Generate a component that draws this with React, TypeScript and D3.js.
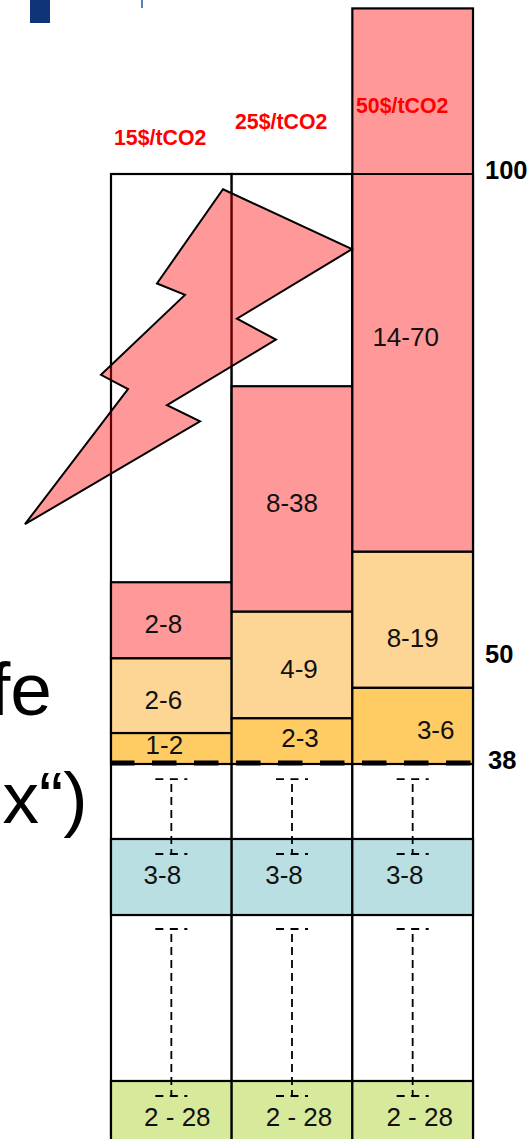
import React, { useEffect, useRef } from "react"
import * as d3 from "d3"

// carbon price columns
const prices = ["15$/tCO2", "25$/tCO2", "50$/tCO2"]

// cumulative tops of the stacks above the 38 line
const baseline = [38, 38, 38]
const orangeTop = [41.25, 42.8, 46]
const peachTop = [49.1, 54, 60.3]
const redTop = [57.1, 77.7, 117.4]

const orangeLabels = ["1-2", "2-3", "3-6"]
const peachLabels = ["2-6", "4-9", "8-19"]
const redLabels = ["2-8", "8-38", "14-70"]

// bands below the break in the axis
const blueBand = [22.13, 30.12]
const greenBand = [-3, 4.69]
const blueLabels = ["3-8", "3-8", "3-8"]
const greenLabels = ["2 - 28", "2 - 28", "2 - 28"]

const frameTop = 100
const whiskers = [[36.42, 28.54], [20.66, 3.11]]
const ticks = [100, 50, 38]

// lightning outline, [column units, axis value]
const lightning = [
    [0.928, 98.4], [1.997, 92.1], [1.044, 84.8], [1.367, 82.6], [0.464, 75.7], [0.738, 74],
    [-0.713, 63.2], [0.141, 77.4], [-0.083, 78.9], [0.613, 87.3], [0.381, 88.5]
]

const labelNudge = {
    red: [[-8, 13], [0, 13], [-7, -17]],
    peach: [[-8, 13], [7, 13], [0, 27]],
    orange: [[-7, 5], [8, 6], [23, 13]],
    blue: [[-9, 7], [-8, 7], [-8, 7]],
    green: [[6, 16], [7, 16], [7, 16]]
}

const priceOffset = [[114, 145], [235, 129], [356, 113]]
const tickNudge = { 100: [0, 4], 50: [0, 13], 38: [3, 4] }

const FONT = "'Liberation Sans', Arial, sans-serif"

export default function App() {
    const ref = useRef<SVGSVGElement>(null)

    useEffect(() => {
        const svg = d3.select(ref.current)
        svg.selectAll("*").remove()

        const yScale = d3.scaleLinear().domain([38, 100]).range([764, 174])
        const xScale = d3.scaleBand().domain(prices).range([111, 473])
        const colScale = d3.scaleLinear().domain([0, 1]).range([111, 111 + xScale.step()])
        const mid = (name: string) => xScale(name)! + xScale.bandwidth() / 2

        // pieces of the slide sticking out behind the chart
        svg.append("rect").attr("x", 30).attr("y", 0).attr("width", 20).attr("height", 23).attr("fill", "#0f3478")
        svg.append("rect").attr("x", 141).attr("y", 0).attr("width", 2).attr("height", 8).attr("fill", "#5585b8")
        svg.append("text").attr("x", 52).attr("y", 715).attr("text-anchor", "end")
            .attr("font-family", FONT).attr("font-size", 75).text("fe")
        svg.append("text").attr("x", 2.5).attr("y", 823)
            .attr("font-family", FONT).attr("font-size", 73).text("x“)")

        const rectStyle = (sel: any, fill: string) => sel
            .attr("fill", fill).attr("stroke", "#000").attr("stroke-width", 2.2)

        // empty frames
        rectStyle(svg.append("g").selectAll("rect").data(prices).enter().append("rect")
            .attr("x", d => xScale(d)!)
            .attr("width", xScale.bandwidth())
            .attr("y", yScale(frameTop))
            .attr("height", yScale(greenBand[0]) - yScale(frameTop)), "#fff")

        const stacked = [
            { key: "red", from: peachTop, to: redTop, labels: redLabels, fill: "#ff9999" },
            { key: "peach", from: orangeTop, to: peachTop, labels: peachLabels, fill: "#fdd595" },
            { key: "orange", from: baseline, to: orangeTop, labels: orangeLabels, fill: "#ffcb63" },
            { key: "blue", from: prices.map(() => blueBand[0]), to: prices.map(() => blueBand[1]), labels: blueLabels, fill: "#b9dfe2" },
            { key: "green", from: prices.map(() => greenBand[0]), to: prices.map(() => greenBand[1]), labels: greenLabels, fill: "#d7e99b" }
        ]

        stacked.forEach(layer => {
            rectStyle(svg.append("g").selectAll("rect").data(prices).enter().append("rect")
                .attr("x", d => xScale(d)!)
                .attr("width", xScale.bandwidth())
                .attr("y", (d, i) => yScale(layer.to[i]))
                .attr("height", (d, i) => yScale(layer.from[i]) - yScale(layer.to[i])), layer.fill)
        })

        // the 100 line runs across the tallest column too
        svg.append("line")
            .attr("x1", xScale.range()[0]).attr("x2", xScale.range()[1])
            .attr("y1", yScale(frameTop)).attr("y2", yScale(frameTop))
            .attr("stroke", "#000").attr("stroke-width", 2)

        stacked.forEach(layer => {
            svg.append("g").selectAll("text").data(layer.labels).enter().append("text")
                .attr("x", (d, i) => mid(prices[i]) + labelNudge[layer.key][i][0])
                .attr("y", (d, i) => {
                    const top = layer.key == "red" && i == 2 ? frameTop : layer.to[i]
                    const bottom = Math.max(yScale(layer.from[i]), 0)
                    return (Math.min(bottom, 1139) + yScale(top)) / 2 + labelNudge[layer.key][i][1]
                })
                .attr("text-anchor", "middle")
                .attr("font-family", FONT)
                .attr("font-size", 26)
                .attr("fill", "#111")
                .text(d => d)
        })

        // dashed whiskers
        whiskers.forEach(w => {
            prices.forEach(p => {
                const g = svg.append("g").attr("stroke", "#000").attr("fill", "none")
                g.append("line")
                    .attr("x1", mid(p)).attr("x2", mid(p))
                    .attr("y1", yScale(w[0])).attr("y2", yScale(w[1]))
                    .attr("stroke-width", 1.8).attr("stroke-dasharray", "8 5")
                    .attr("stroke-dashoffset", -5)
                w.forEach(v => {
                    g.append("line")
                        .attr("x1", mid(p) - 16).attr("x2", mid(p) + 16)
                        .attr("y1", yScale(v)).attr("y2", yScale(v))
                        .attr("stroke-width", 1.8).attr("stroke-dasharray", "8 6.5")
                })
            })
        })

        // the 38 break line
        svg.append("line")
            .attr("x1", 110).attr("x2", 472)
            .attr("y1", yScale(38) - 1).attr("y2", yScale(38) - 1)
            .attr("stroke", "#000").attr("stroke-width", 5)
            .attr("stroke-dasharray", "24.5 17.5")

        // lightning
        const line = d3.line()
            .x(d => colScale(d[0]))
            .y(d => yScale(d[1]))
            .curve(d3.curveLinearClosed)
        svg.append("path")
            .attr("d", line(lightning as [number, number][]))
            .attr("fill", "red")
            .attr("fill-opacity", 0.4)
            .attr("stroke", "#000")
            .attr("stroke-width", 2)
            .attr("stroke-linejoin", "miter")

        // price labels
        svg.append("g").selectAll("text").data(prices).enter().append("text")
            .attr("x", (d, i) => priceOffset[i][0])
            .attr("y", (d, i) => priceOffset[i][1])
            .attr("font-family", FONT)
            .attr("font-size", 21.3)
            .attr("font-weight", "bold")
            .attr("fill", "#ff0000")
            .text(d => d)

        // right hand axis, labels only
        const axis = d3.axisRight(yScale)
            .tickValues(ticks)
            .tickSize(0)
            .tickPadding(0)
            .tickFormat(d3.format("d"))
        const axisG = svg.append("g")
            .attr("transform", "translate(485,0)")
            .call(axis)
        axisG.select(".domain").remove()
        axisG.selectAll("text")
            .attr("dy", null)
            .attr("x", d => tickNudge[d as number][0])
            .attr("y", d => tickNudge[d as number][1])
            .attr("font-family", FONT)
            .attr("font-size", 25.5)
            .attr("font-weight", "bold")
            .attr("fill", "#000")
    }, [])

    return (
        <svg
            ref={ref}
            width={531}
            height={1139}
            style={{ position: "absolute", left: 0, top: 0, background: "#fff" }}
        />
    )
}
